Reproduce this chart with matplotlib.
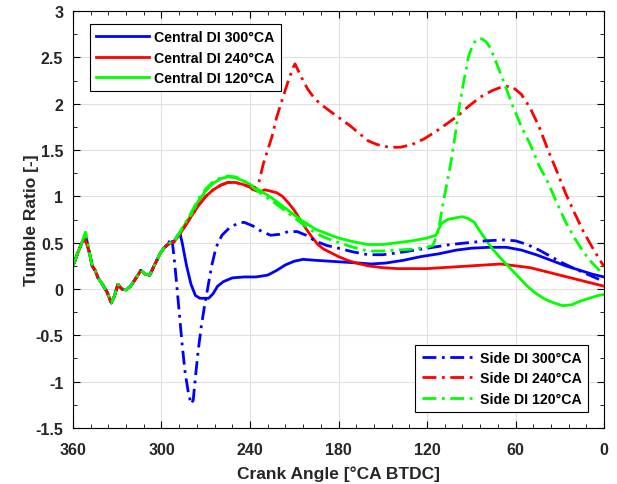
import numpy as np
import matplotlib.pyplot as plt
from matplotlib.ticker import MultipleLocator, FormatStrFormatter

plt.rcParams['font.family'] = ['Liberation Sans', 'DejaVu Sans']
plt.rcParams['font.weight'] = 'bold'

# shared early part of all six curves (deg BTDC, tumble ratio)
x_early = [360, 357, 354, 351.5, 349, 347, 345, 343, 340, 337, 334, 332, 329.5, 327, 324,
           321, 318, 314, 311, 308, 305, 301, 298, 294]
y_early = [0.25, 0.38, 0.5, 0.57, 0.4, 0.25, 0.2, 0.12, 0.05, -0.03, -0.15, -0.08, 0.05, 0.0, -0.01,
           0.03, 0.1, 0.2, 0.16, 0.15, 0.25, 0.38, 0.45, 0.5]

# Central DI 300
x_c300 = [292, 289, 287.5, 286, 283, 280, 277, 274, 268, 265, 262, 258, 252, 244, 236, 228, 222,
          216, 210, 204, 196, 186, 176, 166, 158, 148, 136, 124, 112, 100, 90, 78, 66, 56, 46,
          36, 26, 16, 8, 0]
y_c300 = [0.5, 0.58, 0.6, 0.5, 0.25, 0.05, -0.07, -0.1, -0.1, -0.05, 0.03, 0.08, 0.12, 0.13, 0.13,
          0.15, 0.2, 0.26, 0.3, 0.32, 0.31, 0.3, 0.29, 0.28, 0.27, 0.28, 0.31, 0.35, 0.38, 0.42,
          0.44, 0.45, 0.45, 0.42, 0.37, 0.31, 0.25, 0.2, 0.16, 0.13]

# Central DI 240
x_c240 = [292, 288, 284, 280, 275, 270, 265, 260, 255, 250, 245, 240, 236, 233, 230, 227, 222,
          218, 214, 210, 206, 202, 198, 194, 190, 185, 180, 174, 168, 160, 150, 140, 130, 120,
          110, 100, 90, 80, 70, 60, 50, 40, 30, 20, 10, 0]
y_c240 = [0.5, 0.58, 0.68, 0.78, 0.9, 1.0, 1.07, 1.12, 1.15, 1.15, 1.13, 1.1, 1.06, 1.05, 1.07,
          1.06, 1.04, 1.0, 0.93, 0.85, 0.75, 0.65, 0.56, 0.48, 0.43, 0.39, 0.35, 0.31, 0.28, 0.25,
          0.23, 0.22, 0.22, 0.22, 0.23, 0.24, 0.25, 0.26, 0.27, 0.25, 0.23, 0.19, 0.15, 0.11,
          0.07, 0.03]

# Central DI 120
x_c120 = [292, 288, 284, 280, 275, 270, 265, 260, 255, 250, 245, 240, 235, 230, 225, 220, 215,
          210, 205, 200, 195, 190, 185, 180, 170, 160, 150, 140, 130, 120, 114, 112, 110, 106,
          100, 96, 92, 88, 84, 80, 76, 70, 64, 58, 52, 46, 40, 34, 28, 22, 16, 10, 4, 0]
y_c120 = [0.5, 0.6, 0.7, 0.8, 0.95, 1.06, 1.14, 1.19, 1.21, 1.2, 1.17, 1.13, 1.08, 1.03, 0.98,
          0.92, 0.86, 0.8, 0.74, 0.69, 0.64, 0.61, 0.58, 0.55, 0.51, 0.48, 0.48, 0.5, 0.52, 0.55,
          0.58, 0.65, 0.71, 0.75, 0.77, 0.78, 0.76, 0.72, 0.62, 0.53, 0.44, 0.33, 0.23, 0.13,
          0.03, -0.05, -0.11, -0.15, -0.18, -0.17, -0.13, -0.1, -0.07, -0.06]

# Side DI 300
x_s300 = [296, 293, 291.5, 290, 288, 286, 284, 282, 280, 278.5, 277, 275, 273, 271, 269, 266,
          263, 259, 254, 248, 244, 238, 232, 226, 220, 214, 208, 202, 196, 188, 180, 170, 160,
          150, 140, 128, 116, 104, 92, 80, 68, 60, 52, 44, 36, 28, 20, 10, 0]
y_s300 = [0.48, 0.55, 0.35, 0.1, -0.25, -0.6, -0.9, -1.1, -1.24, -1.2, -0.95, -0.65, -0.4, -0.2,
          -0.02, 0.25, 0.45, 0.58, 0.66, 0.71, 0.72, 0.68, 0.62, 0.58, 0.59, 0.62, 0.62, 0.58,
          0.52, 0.47, 0.44, 0.4, 0.37, 0.37, 0.39, 0.42, 0.45, 0.48, 0.5, 0.52, 0.53, 0.52,
          0.48, 0.42, 0.35, 0.28, 0.22, 0.15, 0.08]

# Side DI 240
x_s240 = [292, 288, 284, 280, 275, 270, 265, 260, 255, 250, 245, 240, 238, 234, 231, 228, 225,
          222, 218, 214, 211, 209.5, 208, 205, 201, 196, 190, 185, 178, 172, 166, 160, 154, 146,
          138, 130, 122, 114, 106, 99, 92, 84, 76, 68, 62, 56, 50, 44, 38, 32, 26, 20, 14, 8, 0]
y_s240 = [0.5, 0.58, 0.68, 0.78, 0.9, 1.0, 1.07, 1.12, 1.15, 1.15, 1.13, 1.1, 1.07, 1.15, 1.35,
          1.5, 1.65, 1.85, 2.05, 2.25, 2.38, 2.43, 2.38, 2.28, 2.16, 2.05, 1.97, 1.91, 1.83, 1.76,
          1.68, 1.6, 1.56, 1.53, 1.53, 1.56, 1.62, 1.7, 1.79, 1.87, 1.97, 2.07, 2.14, 2.19, 2.18,
          2.1, 1.95, 1.75, 1.5, 1.27, 1.03, 0.82, 0.62, 0.45, 0.24]

# Side DI 120
x_s120 = [292, 288, 284, 280, 275, 270, 265, 260, 255, 250, 245, 240, 235, 230, 225, 220, 215,
          210, 205, 200, 195, 190, 185, 178, 170, 160, 150, 140, 130, 120, 116, 114, 112, 110,
          107, 104, 101, 98, 95, 92, 89, 86, 83, 80, 77, 74, 71, 66, 62, 56, 50, 44, 38, 32, 26,
          20, 14, 8, 0]
y_s120 = [0.5, 0.6, 0.71, 0.82, 0.97, 1.08, 1.16, 1.2, 1.22, 1.21, 1.18, 1.12, 1.06, 1.0, 0.95,
          0.89, 0.83, 0.77, 0.71, 0.65, 0.6, 0.56, 0.53, 0.49, 0.45, 0.41, 0.41, 0.42, 0.43, 0.45,
          0.47, 0.55, 0.65, 0.85, 1.1, 1.35, 1.65, 1.98, 2.25, 2.5, 2.64, 2.7, 2.7, 2.67, 2.6,
          2.48, 2.36, 2.15, 1.98, 1.75, 1.56, 1.33, 1.15, 0.93, 0.72, 0.55, 0.4, 0.28, 0.15]

peak_shift = {'blue': 0.0, 'red': -0.04, 'green': 0.04}

fig = plt.figure(figsize=(6.17, 4.85), dpi=100)
ax = fig.add_axes([0.1183, 0.1155, 0.8607, 0.8597])

dd = (0, (5, 2, 1, 2))
series = [
    (x_c300, y_c300, 'blue', '-', 'Central DI 300°CA'),
    (x_c240, y_c240, 'red', '-', 'Central DI 240°CA'),
    (x_c120, y_c120, 'lime', '-', 'Central DI 120°CA'),
    (x_s300, y_s300, 'blue', dd, 'Side DI 300°CA'),
    (x_s240, y_s240, 'red', dd, 'Side DI 240°CA'),
    (x_s120, y_s120, 'lime', dd, 'Side DI 120°CA'),
]
key = {'blue': 'blue', 'red': 'red', 'lime': 'green'}
lines = []
for xs, ys, col, ls, lab in series:
    ye = list(y_early)
    ye[3] += peak_shift[key[col]]
    ln, = ax.plot(x_early + xs, ye + ys, color=col, linestyle=ls, lw=2, label=lab)
    lines.append(ln)

ax.set_xlim(360, 0)
ax.set_ylim(-1.5, 3)
ax.xaxis.set_major_locator(MultipleLocator(60))
ax.xaxis.set_minor_locator(MultipleLocator(12))
ax.yaxis.set_major_locator(MultipleLocator(0.5))
ax.yaxis.set_minor_locator(MultipleLocator(0.25))
ax.yaxis.set_major_formatter(FormatStrFormatter('%g'))
ax.tick_params(which='both', direction='in', top=True, right=True, labelsize=11.5,
               labelcolor='#262626')
ax.tick_params(which='major', length=5)
ax.tick_params(which='minor', length=3)
ax.tick_params(axis='x', which='major', pad=10)
ax.tick_params(axis='y', which='major', pad=7)
ax.grid(True, which='major', color='#e0e0e0', lw=0.8)
ax.set_axisbelow(True)
for sp in ax.spines.values():
    sp.set_linewidth(0.8)
ax.set_xlabel('Crank Angle [°CA BTDC]', fontsize=12.5, fontweight='bold', labelpad=6,
              color='#262626')
ax.set_ylabel('Tumble Ratio [-]', fontsize=12.5, fontweight='bold', labelpad=-2.5,
              color='#262626')

leg_kw = dict(fontsize=10.2, fancybox=False, edgecolor='black', framealpha=1,
              handlelength=3.7, borderpad=0.45, labelspacing=0.45, handletextpad=0.4,
              borderaxespad=0)
leg1 = ax.legend(handles=lines[:3], loc='upper left', bbox_to_anchor=(0.032, 0.969), **leg_kw)
leg1.get_frame().set_linewidth(0.8)
ax.add_artist(leg1)
leg2 = ax.legend(handles=lines[3:], loc='lower right', bbox_to_anchor=(0.97, 0.038), **leg_kw)
leg2.get_frame().set_linewidth(0.8)

fig.savefig('out.png', dpi=100)
